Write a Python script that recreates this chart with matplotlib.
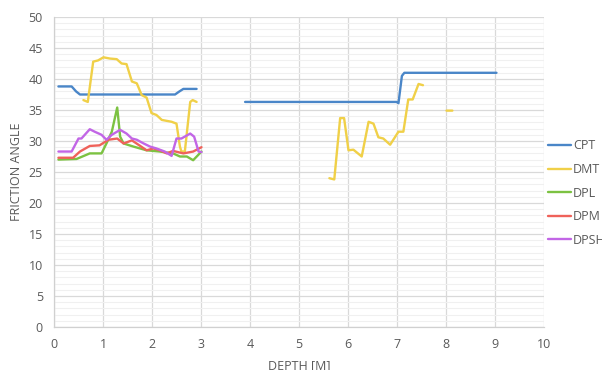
import matplotlib
matplotlib.use("Agg")
import matplotlib.pyplot as plt
import numpy as np
from matplotlib.ticker import MultipleLocator

nan = np.nan

cpt_x = [0.09, 0.36, 0.45, 0.53, 2.47, 2.56, 2.64, 2.91, nan, 3.9, 6.99, 7.03, 7.10, 7.15, 9.03]
cpt_y = [38.8, 38.8, 38.0, 37.5, 37.5, 38.0, 38.4, 38.4, nan, 36.3, 36.3, 36.1, 40.5, 41.0, 41.0]

dmt_x = [0.6, 0.69, 0.80, 0.9, 1.01, 1.14, 1.28, 1.38, 1.48, 1.59, 1.69, 1.79, 1.89, 1.99, 2.09,
         2.20, 2.40, 2.5, 2.57, 2.6, 2.67, 2.78, 2.83, 2.91, nan,
         5.62, 5.72, 5.84, 5.92, 6.01, 6.11, 6.28, 6.42, 6.52, 6.62, 6.72, 6.86, 7.03, 7.13,
         7.23, 7.32, 7.44, 7.53, nan, 8.01, 8.13]
dmt_y = [36.6, 36.3, 42.8, 43.0, 43.5, 43.3, 43.2, 42.5, 42.4, 39.6, 39.3, 37.4, 37.0, 34.5, 34.2,
         33.4, 33.1, 32.8, 29.1, 28.3, 28.3, 36.3, 36.6, 36.3, nan,
         24.0, 23.8, 33.7, 33.7, 28.5, 28.6, 27.5, 33.1, 32.8, 30.6, 30.4, 29.4, 31.5, 31.5,
         36.7, 36.7, 39.2, 39.0, nan, 34.9, 34.9]

dpl_x = [0.09, 0.46, 0.73, 0.97, 1.07, 1.18, 1.29, 1.35, 1.42, 1.62, 1.89, 2.16, 2.43, 2.57, 2.71, 2.84, 3.01]
dpl_y = [27.0, 27.1, 28.0, 28.0, 29.6, 31.5, 35.4, 30.7, 29.6, 29.1, 28.5, 28.3, 28.0, 27.5, 27.5, 26.9, 28.3]

dpm_x = [0.09, 0.39, 0.53, 0.73, 0.93, 1.11, 1.29, 1.42, 1.59, 1.76, 1.89, 2.03, 2.16, 2.3, 2.43, 2.64, 2.84, 3.01]
dpm_y = [27.3, 27.3, 28.3, 29.2, 29.3, 30.2, 30.4, 29.6, 30.1, 29.2, 28.5, 28.8, 28.5, 28.0, 28.4, 28.0, 28.3, 29.0]

dpsh_x = [0.09, 0.36, 0.50, 0.56, 0.73, 0.83, 0.97, 1.07, 1.18, 1.35, 1.48, 1.59, 1.69, 1.83, 1.96,
          2.09, 2.26, 2.40, 2.50, 2.6, 2.78, 2.86, 2.95, 3.01]
dpsh_y = [28.3, 28.3, 30.4, 30.4, 31.9, 31.5, 31.0, 30.2, 31.0, 31.8, 31.2, 30.4, 30.2, 29.6, 29.1,
          28.8, 28.3, 27.6, 30.4, 30.4, 31.2, 30.7, 28.3, 28.2]

series = [
    ("CPT", cpt_x, cpt_y, "#4a86c8"),
    ("DMT", dmt_x, dmt_y, "#f0d048"),
    ("DPL", dpl_x, dpl_y, "#7cc242"),
    ("DPM", dpm_x, dpm_y, "#ef625a"),
    ("DPSH", dpsh_x, dpsh_y, "#c266e6"),
]

plt.rcParams['font.family'] = ['Open Sans', 'DejaVu Sans']
txt = "#595959"

fig = plt.figure(figsize=(6.02, 3.70), dpi=100)
ax = fig.add_axes([54/602, 1-327/370, 490/602, 310/370])

for name, xs, ys, c in series:
    ax.plot(xs, ys, color=c, lw=1.7, label=name, solid_joinstyle='round', solid_capstyle='round')

ax.set_xlim(0, 10)
ax.set_ylim(0, 50)
ax.xaxis.set_major_locator(MultipleLocator(1))
ax.yaxis.set_major_locator(MultipleLocator(5))
ax.yaxis.set_minor_locator(MultipleLocator(1))
ax.grid(which='major', color='#d9d9d9', lw=0.9)
ax.grid(which='minor', axis='y', color='#f0f0f0', lw=0.8)
ax.set_axisbelow(True)
for s in ['top', 'right']:
    ax.spines[s].set_visible(False)
for s in ['left', 'bottom']:
    ax.spines[s].set_color('#d0d0d0')
    ax.spines[s].set_linewidth(0.9)
ax.tick_params(which='both', length=0, labelsize=9, colors=txt, pad=8)
ax.set_xlabel("DEPTH [M]", fontsize=9, color=txt, labelpad=6)
ax.set_ylabel("FRICTION ANGLE", fontsize=9, color=txt, labelpad=4)

leg = ax.legend(loc='center left', bbox_to_anchor=(0.998, 0.432), frameon=False, fontsize=9,
                handlelength=1.85, handletextpad=0.15, labelspacing=0.85, borderaxespad=0.0)
for t in leg.get_texts():
    t.set_color(txt)

fig.savefig("out.png", dpi=100)
